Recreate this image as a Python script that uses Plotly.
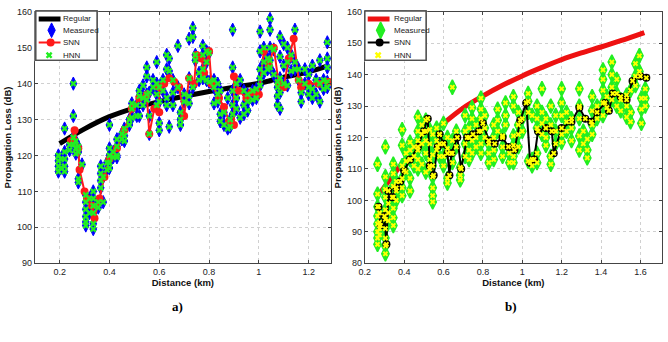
import plotly.graph_objects as go

# ---------------- panel a) ----------------
reg_a_x = [0.2, 0.3, 0.4, 0.5, 0.6, 0.7, 0.8, 0.9, 1.0, 1.1, 1.2, 1.28]
reg_a_y = [123.3, 127.4, 130.8, 133.2, 135.0, 136.5, 137.8, 139.0, 140.1, 141.8, 143.3, 145.0]

meas_a_cols = [
    (0.195, [120, 118.5, 117, 115.5]),
    (0.205, [119, 116.5]),
    (0.22, [127.5, 121, 119, 117, 115.5]),
    (0.24, [123, 121.5]),
    (0.255, [140, 131, 125, 123]),
    (0.265, [124, 122, 120.5]),
    (0.275, [122.5, 121, 113.5, 112.5]),
    (0.29, [117.5]),
    (0.305, [109, 107, 105, 103, 101.5, 100.5]),
    (0.32, [108, 104]),
    (0.335, [110, 108, 106, 104, 101, 99.5]),
    (0.355, [107, 105.5]),
    (0.365, [117, 115, 113, 111]),
    (0.375, [114, 107]),
    (0.39, [118, 116]),
    (0.40, [128.5, 122, 120, 118, 116.5]),
    (0.415, [121, 119.5]),
    (0.43, [124.5, 122.5, 120, 119.5]),
    (0.45, [126, 124.5]),
    (0.46, [127.5, 125.5, 124]),
    (0.48, [130, 128.5]),
    (0.49, [134.5, 133, 130.5]),
    (0.51, [134, 131]),
    (0.52, [138, 136.5, 131]),
    (0.535, [139.5, 136, 134]),
    (0.55, [144.5, 142, 137, 135.5]),
    (0.56, [126, 131, 137.5]),
    (0.575, [141, 139]),
    (0.59, [146, 140, 137, 134]),
    (0.60, [129, 127, 139, 135]),
    (0.615, [141, 138]),
    (0.63, [148, 144, 136, 134]),
    (0.64, [147, 143.5, 128]),
    (0.655, [141, 137.5, 134]),
    (0.675, [150.5, 139]),
    (0.685, [132, 130, 128.5]),
    (0.70, [135, 137]),
    (0.72, [152.5, 141.5, 136.5, 134.5]),
    (0.735, [155.5, 153, 139]),
    (0.745, [148, 146.5]),
    (0.76, [143, 141]),
    (0.775, [150.5, 148, 144, 141.5]),
    (0.79, [149, 146, 141]),
    (0.80, [148.5, 140.5]),
    (0.82, [141, 139, 134.5]),
    (0.835, [140, 137, 135]),
    (0.845, [138, 131.5, 129.5]),
    (0.86, [132, 128.5]),
    (0.875, [136, 127.5]),
    (0.885, [130, 128]),
    (0.895, [155, 144.5, 138, 134, 131.5]),
    (0.91, [140, 136, 133]),
    (0.925, [141, 130.5]),
    (0.94, [138, 134, 131.5]),
    (0.955, [137, 135, 132.5]),
    (0.975, [138, 135.5]),
    (0.99, [136, 138.5]),
    (1.005, [154.5, 149, 144, 141.5, 139.5]),
    (1.02, [150, 146, 143]),
    (1.035, [147, 144]),
    (1.045, [158, 155, 150, 146.5, 144.5]),
    (1.06, [149.5, 142.5]),
    (1.075, [139, 136.5, 134, 140.5]),
    (1.085, [153, 147.5, 141.5, 137.5, 133]),
    (1.10, [151, 145, 140]),
    (1.115, [150, 146, 139.5]),
    (1.13, [148, 143.5]),
    (1.145, [155, 146, 144]),
    (1.16, [144, 141]),
    (1.17, [137.5, 135]),
    (1.185, [144, 140]),
    (1.20, [142.5, 139, 137]),
    (1.215, [145, 138.5, 136]),
    (1.23, [141, 137]),
    (1.245, [146.5, 140, 135]),
    (1.26, [141, 138.5]),
    (1.275, [151.5, 147, 144.5, 140.5, 139]),
]
meas_a_x = [c[0] for c in meas_a_cols for _ in c[1]]
meas_a_y = [v for c in meas_a_cols for v in c[1]]

snn_a_x = [0.245, 0.26, 0.275, 0.28, 0.30, 0.31, 0.33, 0.34, 0.36, 0.38, 0.40, 0.43,
           0.46, 0.49, 0.52, 0.55, 0.56, 0.58, 0.60, 0.60, 0.62, 0.64, 0.66, 0.68,
           0.70, 0.72, 0.74, 0.75, 0.77, 0.78, 0.80, 0.81, 0.84, 0.86, 0.88, 0.90,
           0.90, 0.92, 0.95, 0.97, 1.00, 1.02, 1.04, 1.06, 1.08, 1.10, 1.12, 1.14,
           1.16, 1.17, 1.20, 1.24, 1.28]
snn_a_y = [124, 127, 122, 116, 110, 108, 106, 102.5, 108, 114, 119, 122,
           127, 133, 136, 137, 126, 133, 132, 139, 140, 141.5, 140.5, 139,
           131, 141.5, 140, 148, 147, 143, 149, 140, 136, 133.5, 129.5, 128.5,
           142, 138, 136, 137.5, 137, 149, 145, 150, 140, 139, 147, 152.5,
           141, 139, 140, 140, 140.5]

hnn_a_x = list(meas_a_x)
hnn_a_y = list(meas_a_y)

# ---------------- panel b) ----------------
reg_b_x = [0.28, 0.30, 0.35, 0.40, 0.50, 0.60, 0.70, 0.80, 0.90, 1.00, 1.10, 1.20, 1.30, 1.40, 1.50, 1.62]
reg_b_y = [102.5, 104.3, 108.5, 112.5, 119.0, 124.5, 129.4, 133.2, 136.6, 139.6, 142.3, 144.8, 146.9, 148.8, 150.8, 153.4]

meas_b_cols = [
    (0.265, [111.5, 102, 98, 95, 92.5, 90, 88, 86]),
    (0.275, [96, 93, 91, 89]),
    (0.305, [117, 107.5, 103.5, 101, 97, 94, 91, 88, 85.5, 83]),
    (0.32, [99, 96, 93.5]),
    (0.345, [111.5, 108.5, 104.5, 101, 97.5, 94.5, 92]),
    (0.36, [106, 103, 100]),
    (0.39, [122.5, 117.5, 111, 107, 104, 101.5]),
    (0.41, [115, 112.5, 109]),
    (0.43, [118.5, 116, 113, 107, 103]),
    (0.45, [117, 114, 111]),
    (0.47, [126.5, 122, 119, 116, 113, 110]),
    (0.49, [124, 121, 118, 111.5]),
    (0.51, [125.5, 122, 119, 115, 109]),
    (0.53, [122.5, 118, 113, 110]),
    (0.545, [121, 114.5, 111, 107.5, 104, 101.5, 99.5]),
    (0.565, [123, 119, 116]),
    (0.58, [121, 118, 114]),
    (0.60, [124.5, 118, 114, 111]),
    (0.62, [120, 116.5, 107, 105.5]),
    (0.645, [136, 119, 115, 112]),
    (0.665, [122, 117]),
    (0.685, [110.5, 108, 106.5]),
    (0.71, [127, 122, 118, 114]),
    (0.73, [123, 120, 116, 113]),
    (0.745, [129.5, 126, 119, 115]),
    (0.765, [124, 120, 117]),
    (0.79, [132.5, 129, 126, 122, 118, 115]),
    (0.81, [127, 123, 120]),
    (0.83, [118, 115, 112]),
    (0.855, [124, 120, 116, 113]),
    (0.875, [129, 125.5, 122]),
    (0.90, [120.5, 117, 114]),
    (0.915, [131, 127, 124]),
    (0.935, [115, 112]),
    (0.955, [133, 130, 120.5, 117.5, 114, 112]),
    (0.98, [128, 124, 121, 117]),
    (1.00, [126, 122]),
    (1.03, [134, 131.5, 128, 112.5]),
    (1.05, [127, 113, 111]),
    (1.075, [130, 126, 123, 115, 112]),
    (1.10, [135.5, 128, 124.5, 121]),
    (1.12, [126, 120, 117.5]),
    (1.145, [130, 124, 114, 111.5]),
    (1.17, [127, 122, 118]),
    (1.20, [135.5, 131, 127, 121, 118.5]),
    (1.225, [128, 125, 122]),
    (1.25, [126, 123, 119]),
    (1.29, [135.5, 130, 126, 120.5, 116]),
    (1.31, [122, 118]),
    (1.33, [119.5, 116, 113.5]),
    (1.355, [133, 128.5, 124, 121]),
    (1.38, [130, 126]),
    (1.41, [141.5, 138.5, 135, 131, 127]),
    (1.43, [133, 129.5]),
    (1.455, [144, 140, 136, 132]),
    (1.48, [138.5, 134, 130]),
    (1.50, [132, 128.5]),
    (1.53, [133.5, 130, 126.5]),
    (1.55, [135, 128, 125]),
    (1.575, [143.5, 139.5, 136.5]),
    (1.595, [146, 141]),
    (1.605, [124.5, 132.5, 129]),
    (1.625, [135.5, 132.5, 130]),
]
meas_b_x = [c[0] for c in meas_b_cols for _ in c[1]]
meas_b_y = [v for c in meas_b_cols for v in c[1]]

snn_b_x = [0.27, 0.28, 0.30, 0.31, 0.32, 0.34, 0.36, 0.38, 0.40, 0.43, 0.47, 0.50,
           0.52, 0.53, 0.55, 0.57, 0.58, 0.60, 0.62, 0.63, 0.64, 0.67, 0.69, 0.72,
           0.75, 0.78, 0.80, 0.83, 0.86, 0.90, 0.93, 0.96, 0.99, 1.02, 1.04, 1.06,
           1.08, 1.12, 1.15, 1.16, 1.20, 1.25, 1.29, 1.32, 1.35, 1.38, 1.42, 1.44,
           1.46, 1.50, 1.53, 1.56, 1.60, 1.63]
snn_b_y = [98, 92, 95, 86, 103, 101, 104, 106, 109.5, 113, 117, 122,
           126, 111, 108, 117, 121, 118, 115, 108, 115, 120, 110, 120,
           121, 122, 124.5, 119, 118, 120, 117, 116, 125.5, 131, 112, 113,
           122, 123, 122, 115, 123, 125, 129.5, 126, 125, 128, 131, 128.5,
           134, 133, 132, 138, 139.5, 139]

hnn_b_x = meas_b_x + snn_b_x
hnn_b_y = meas_b_y + snn_b_y

legend_labels = ["Regular", "Measured", "SNN", "HNN"]

# ---------------- styles ----------------
FONT = "Liberation Sans, Arial, sans-serif"
W, H = 668, 342
ydom = [1 - 266 / H, 1 - 7 / H]

style_a = dict(
    reg=dict(color="black", width=5),
    meas=dict(symbol="diamond-tall", size=9.5, color="#0000ff", line=dict(width=1, color="#0000ff")),
    snn_line=dict(color="#ff1a1a", width=2),
    snn_mark=dict(symbol="circle", size=8, color="#ff1a1a"),
    hnn=dict(symbol="x", size=6, color="#22ee22", line=dict(width=0)),
)
style_b = dict(
    reg=dict(color="#ee1111", width=5),
    meas=dict(symbol="diamond-tall", size=10.5, color="#22ee22", line=dict(width=1.5, color="#22ee22")),
    snn_line=dict(color="black", width=2),
    snn_mark=dict(symbol="circle", size=8, color="black"),
    hnn=dict(symbol="x", size=5, color="#ffff00", line=dict(width=0)),
)

fig = go.Figure()


def add_panel(xa, ya, rx, ry, mx, my, sx, sy, hx, hy, st):
    fig.add_trace(go.Scatter(x=rx, y=ry, mode="lines", name="Regular",
                             line=dict(shape="spline", **st["reg"]),
                             xaxis=xa, yaxis=ya, showlegend=False))
    fig.add_trace(go.Scatter(x=mx, y=my, mode="markers", name="Measured",
                             marker=st["meas"], xaxis=xa, yaxis=ya, showlegend=False))
    fig.add_trace(go.Scatter(x=sx, y=sy, mode="lines+markers", name="SNN",
                             line=st["snn_line"], marker=st["snn_mark"],
                             xaxis=xa, yaxis=ya, showlegend=False))
    fig.add_trace(go.Scatter(x=hx, y=hy, mode="markers", name="HNN",
                             marker=st["hnn"], xaxis=xa, yaxis=ya, showlegend=False))


add_panel("x", "y", reg_a_x, reg_a_y, meas_a_x, meas_a_y, snn_a_x, snn_a_y, hnn_a_x, hnn_a_y, style_a)
add_panel("x2", "y2", reg_b_x, reg_b_y, meas_b_x, meas_b_y, snn_b_x, snn_b_y, hnn_b_x, hnn_b_y, style_b)

# ---------------- compact legends (pixel-based overlay axes) ----------------
annotations = []
shapes = []
legend_axes = {}


def add_legend(n, left_px, width_px, text_px, st):
    top_px, height_px = 5, 53
    xa, ya = "x%d" % n, "y%d" % n
    legend_axes["xaxis%d" % n] = dict(domain=[left_px / W, (left_px + width_px) / W],
                                      range=[0, width_px], visible=False, fixedrange=True,
                                      anchor=ya)
    legend_axes["yaxis%d" % n] = dict(domain=[1 - (top_px + height_px) / H, 1 - top_px / H],
                                      range=[height_px, 0], visible=False, fixedrange=True,
                                      anchor=xa)
    # white legend background
    fig.add_trace(go.Scatter(x=[0, width_px, width_px, 0, 0],
                             y=[0, 0, height_px, height_px, 0],
                             mode="lines", fill="toself", fillcolor="white",
                             line=dict(color="white", width=0),
                             xaxis=xa, yaxis=ya, showlegend=False, hoverinfo="skip",
                             cliponaxis=False))
    # legend frame (trace)
    fig.add_trace(go.Scatter(x=[1, width_px - 1, width_px - 1, 1, 1],
                             y=[1, 1, height_px - 1, height_px - 1, 1],
                             mode="lines", line=dict(color="#505050", width=1.2),
                             xaxis=xa, yaxis=ya, showlegend=False, hoverinfo="skip",
                             cliponaxis=False))
    # legend frame (shape, in case)
    shapes.append(dict(type="rect", xref="paper", yref="paper",
                       x0=(left_px + 1) / W, x1=(left_px + width_px - 1) / W,
                       y0=1 - (top_px + height_px - 1) / H, y1=1 - (top_px + 1) / H,
                       layer="above", line=dict(color="#505050", width=1.2)))
    rows = [9.3, 21, 33.7, 46.7]
    lx0, lx1 = 4, 26
    fig.add_trace(go.Scatter(x=[lx0, lx1], y=[rows[0]] * 2, mode="lines", line=st["reg"],
                             xaxis=xa, yaxis=ya, showlegend=False, hoverinfo="skip"))
    fig.add_trace(go.Scatter(x=[17], y=[rows[1]], mode="markers",
                             marker=dict(st["meas"], size=st["meas"]["size"] + 1),
                             xaxis=xa, yaxis=ya, showlegend=False, hoverinfo="skip"))
    fig.add_trace(go.Scatter(x=[lx0, lx1], y=[rows[2]] * 2, mode="lines",
                             line=st["snn_line"],
                             xaxis=xa, yaxis=ya, showlegend=False, hoverinfo="skip"))
    fig.add_trace(go.Scatter(x=[16], y=[rows[2]], mode="markers", marker=st["snn_mark"],
                             xaxis=xa, yaxis=ya, showlegend=False, hoverinfo="skip"))
    fig.add_trace(go.Scatter(x=[14.5], y=[rows[3]], mode="markers",
                             marker=dict(st["hnn"], size=6),
                             xaxis=xa, yaxis=ya, showlegend=False, hoverinfo="skip"))
    for lab, ry in zip(legend_labels, rows):
        annotations.append(dict(text=lab, x=text_px, y=ry, xref=xa, yref=ya,
                                xanchor="left", yanchor="middle", showarrow=False,
                                font=dict(family=FONT, size=8, color="#222")))


add_legend(3, 29, 64, 27, style_a)
add_legend(4, 361, 64, 29, style_b)

axis_common = dict(showline=True, linecolor="#444", linewidth=1, mirror="ticks",
                   ticks="inside", ticklen=3, tickcolor="#444",
                   showgrid=True, gridcolor="#d0d0d0", griddash="dot", gridwidth=1,
                   zeroline=False, tickfont=dict(family=FONT, size=9, color="#222"))
title_font = dict(family=FONT, size=9.5, color="#111", weight="bold")

serif = dict(family="Liberation Serif, Times New Roman, serif", size=13, color="black", weight="bold")
annotations += [
    dict(text="a)", x=165 / W, y=1 - 320 / H, xref="paper", yref="paper", showarrow=False, font=serif),
    dict(text="b)", x=518 / W, y=1 - 320 / H, xref="paper", yref="paper", showarrow=False, font=serif),
]

fig.update_layout(
    width=W, height=H,
    margin=dict(l=0, r=0, t=0, b=0),
    plot_bgcolor="white", paper_bgcolor="white",
    showlegend=False,
    xaxis=dict(domain=[29 / W, 328 / W], range=[0.1, 1.29],
               tickvals=[0.2, 0.4, 0.6, 0.8, 1.0, 1.2],
               ticktext=["0.2", "0.4", "0.6", "0.8", "1", "1.2"],
               title=dict(text="Distance (km)", font=title_font, standoff=2),
               anchor="y", **axis_common),
    yaxis=dict(domain=ydom, range=[90, 160], dtick=10,
               title=dict(text="Propagation Loss (dB)", font=title_font, standoff=3),
               anchor="x", **axis_common),
    xaxis2=dict(domain=[362 / W, 662 / W], range=[0.2, 1.71],
                tickvals=[0.2, 0.4, 0.6, 0.8, 1.0, 1.2, 1.4, 1.6],
                ticktext=["0.2", "0.4", "0.6", "0.8", "1", "1.2", "1.4", "1.6"],
                title=dict(text="Distance (km)", font=title_font, standoff=2),
                anchor="y2", **axis_common),
    yaxis2=dict(domain=ydom, range=[80, 160], dtick=10,
                title=dict(text="Propagation Loss (dB)", font=title_font, standoff=3),
                anchor="x2", **axis_common),
    shapes=shapes,
    annotations=annotations,
    **legend_axes,
)

fig.write_html("out.html")
